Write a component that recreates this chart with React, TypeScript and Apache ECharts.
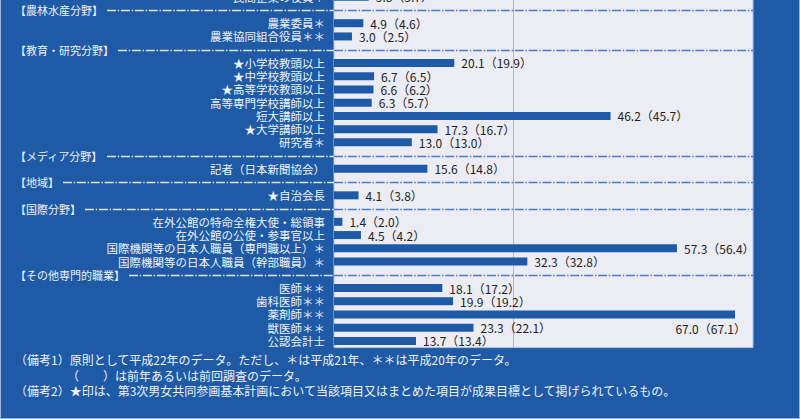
import React, { useEffect, useRef } from "react";
import * as echarts from "echarts";

const FONT = "'Noto Sans CJK JP', 'Noto Sans', sans-serif";

const categories = [
  "民間企業の役員＊",
  "【農林水産分野】",
  "農業委員＊",
  "農業協同組合役員＊＊",
  "【教育・研究分野】",
  "★小学校教頭以上",
  "★中学校教頭以上",
  "★高等学校教頭以上",
  "高等専門学校講師以上",
  "短大講師以上",
  "★大学講師以上",
  "研究者＊",
  "【メディア分野】",
  "記者（日本新聞協会）",
  "【地域】",
  "★自治会長",
  "【国際分野】",
  "在外公館の特命全権大使・総領事",
  "在外公館の公使・参事官以上",
  "国際機関等の日本人職員（専門職以上）＊",
  "国際機関等の日本人職員（幹部職員）＊",
  "【その他専門的職業】",
  "医師＊＊",
  "歯科医師＊＊",
  "薬剤師＊＊",
  "獣医師＊＊",
  "公認会計士",
];

const values: (number | null)[] = [
  5.8, null, 4.9, 3.0, null, 20.1, 6.7, 6.6, 6.3, 46.2, 17.3, 13.0, null, 15.6, null, 4.1,
  null, 1.4, 4.5, 57.3, 32.3, null, 18.1, 19.9, 67.0, 23.3, 13.7,
];

const previous: (number | null)[] = [
  5.7, null, 4.6, 2.5, null, 19.9, 6.5, 6.2, 5.7, 45.7, 16.7, 13.0, null, 14.8, null, 3.8,
  null, 2.0, 4.2, 56.4, 32.8, null, 17.2, 19.2, 67.1, 22.1, 13.4,
];

const targetLine = 30;
const axisMax = 70;

const noteLines = [
  "（備考1）原則として平成22年のデータ。ただし、＊は平成21年、＊＊は平成20年のデータ。",
  "（　　）は前年あるいは前回調査のデータ。",
  "（備考2）★印は、第3次男女共同参画基本計画において当該項目又はまとめた項目が成果目標として掲げられているもの。",
];

const BLUE = "#1e5aa6";
const PLOT_BG = "#ececf5";
const LIGHT = "#eef2fa";
const HEADER_SIZE = 11;
const ITEM_SIZE = 11.5;
const SHIFT = 10; // chart canvas starts above the visible page (cropped top row)

const isHeader = (s: string) => s.startsWith("【");

export default function App() {
  const ref = useRef<HTMLDivElement>(null);
  useEffect(() => {
    document.body.style.margin = "0";
    const chart = echarts.init(ref.current!, null, { renderer: "svg" });

    const barData = values.map((v, i) => {
      if (v === null) return "-";
      if (categories[i].startsWith("薬剤師")) {
        return {
          value: v,
          label: {
            position: ["100%", "50%"],
            align: "right",
            verticalAlign: "middle",
            offset: [11, 14],
          },
        };
      }
      return v;
    });

    chart.setOption({
      animation: false,
      backgroundColor: BLUE,
      textStyle: { fontFamily: FONT },
      grid: {
        left: 334,
        right: 47,
        top: 0.1,
        bottom: 72.4,
        show: true,
        backgroundColor: PLOT_BG,
        borderColor: "#b4c3e3",
        borderWidth: 1,
      },
      xAxis: {
        type: "value",
        min: 0,
        max: axisMax,
        show: false,
        splitLine: { show: false },
      },
      yAxis: [
        {
          type: "category",
          data: categories,
          inverse: true,
          position: "left",
          axisLine: { show: false },
          axisTick: { show: false },
          axisLabel: {
            margin: 9,
            color: LIGHT,
            fontSize: ITEM_SIZE,
            fontFamily: FONT,
            interval: 0,
            formatter: (s: string) => (isHeader(s) ? "" : s),
          },
        },
        {
          type: "category",
          data: categories,
          inverse: true,
          position: "left",
          offset: 0,
          axisLine: { show: false },
          axisTick: { show: false },
          axisLabel: {
            margin: 319,
            align: "left",
            color: LIGHT,
            fontSize: HEADER_SIZE,
            fontFamily: FONT,
            interval: 0,
            formatter: (s: string) => (isHeader(s) ? s : ""),
          },
        },
      ],
      series: [
        {
          type: "bar",
          data: barData,
          barWidth: 8,
          z: 3,
          itemStyle: { color: BLUE },
          label: {
            show: true,
            position: "right",
            distance: 7,
            color: "#231f20",
            fontSize: 12,
            fontFamily: FONT,
            formatter: (p: any) => {
              const prev = previous[p.dataIndex];
              return `${Number(p.value).toFixed(1)}（${prev === null ? "" : prev.toFixed(1)}）`;
            },
          },
          markLine: {
            silent: true,
            symbol: "none",
            z: 1,
            label: { show: false },
            lineStyle: { color: "#a9b9dd", width: 1, type: "solid" },
            data: [{ xAxis: targetLine }],
          },
        },
      ],
    });

    const ctx = document.createElement("canvas").getContext("2d")!;
    ctx.font = `${HEADER_SIZE}px ${FONT}`;
    const plotLeft = chart.convertToPixel({ xAxisIndex: 0 }, 0) as number;
    const plotRight = chart.convertToPixel({ xAxisIndex: 0 }, axisMax) as number;
    const headerLeft = plotLeft - 319;
    const graphics: any[] = [];
    categories.forEach((c, i) => {
      if (!isHeader(c)) return;
      const y = Math.round(chart.convertToPixel({ yAxisIndex: 0 }, i) as number) + 0.5;
      const start = headerLeft + ctx.measureText(c).width + 4;
      graphics.push({
        type: "line",
        z: 10,
        silent: true,
        shape: { x1: start, y1: y, x2: plotLeft, y2: y },
        style: { stroke: "#dfe6f3", lineWidth: 1.5, lineDash: [9, 1.7, 1.5, 1.7] },
      });
      graphics.push({
        type: "line",
        z: 10,
        silent: true,
        shape: { x1: plotLeft, y1: y, x2: plotRight, y2: y },
        style: { stroke: "#4a7cc6", lineWidth: 1.5, lineDash: [9, 1.7, 1.5, 1.7] },
      });
    });
    const noteY = [361, 377, 392];
    const noteX = [15, 67, 15];
    noteLines.forEach((t, i) => {
      graphics.push({
        type: "text",
        z: 10,
        left: noteX[i],
        top: noteY[i] - 8 + SHIFT,
        style: { text: t, fill: LIGHT, font: `12px ${FONT}` },
      });
    });
    graphics.push({
      type: "rect",
      z: 10,
      silent: true,
      shape: { x: 0.5, y: 0, width: 799, height: 418.5 + SHIFT },
      style: { fill: "none", stroke: "#9fb4dc", lineWidth: 1 },
    });
    chart.setOption({ graphic: graphics });

    return () => chart.dispose();
  }, []);
  return (
    <div
      style={{
        width: 800,
        height: 419,
        position: "absolute",
        left: 0,
        top: 0,
        overflow: "hidden",
      }}
    >
      <div
        ref={ref}
        style={{ width: 800, height: 419 + SHIFT + 1, position: "absolute", left: 0, top: -SHIFT }}
      />
    </div>
  );
}
